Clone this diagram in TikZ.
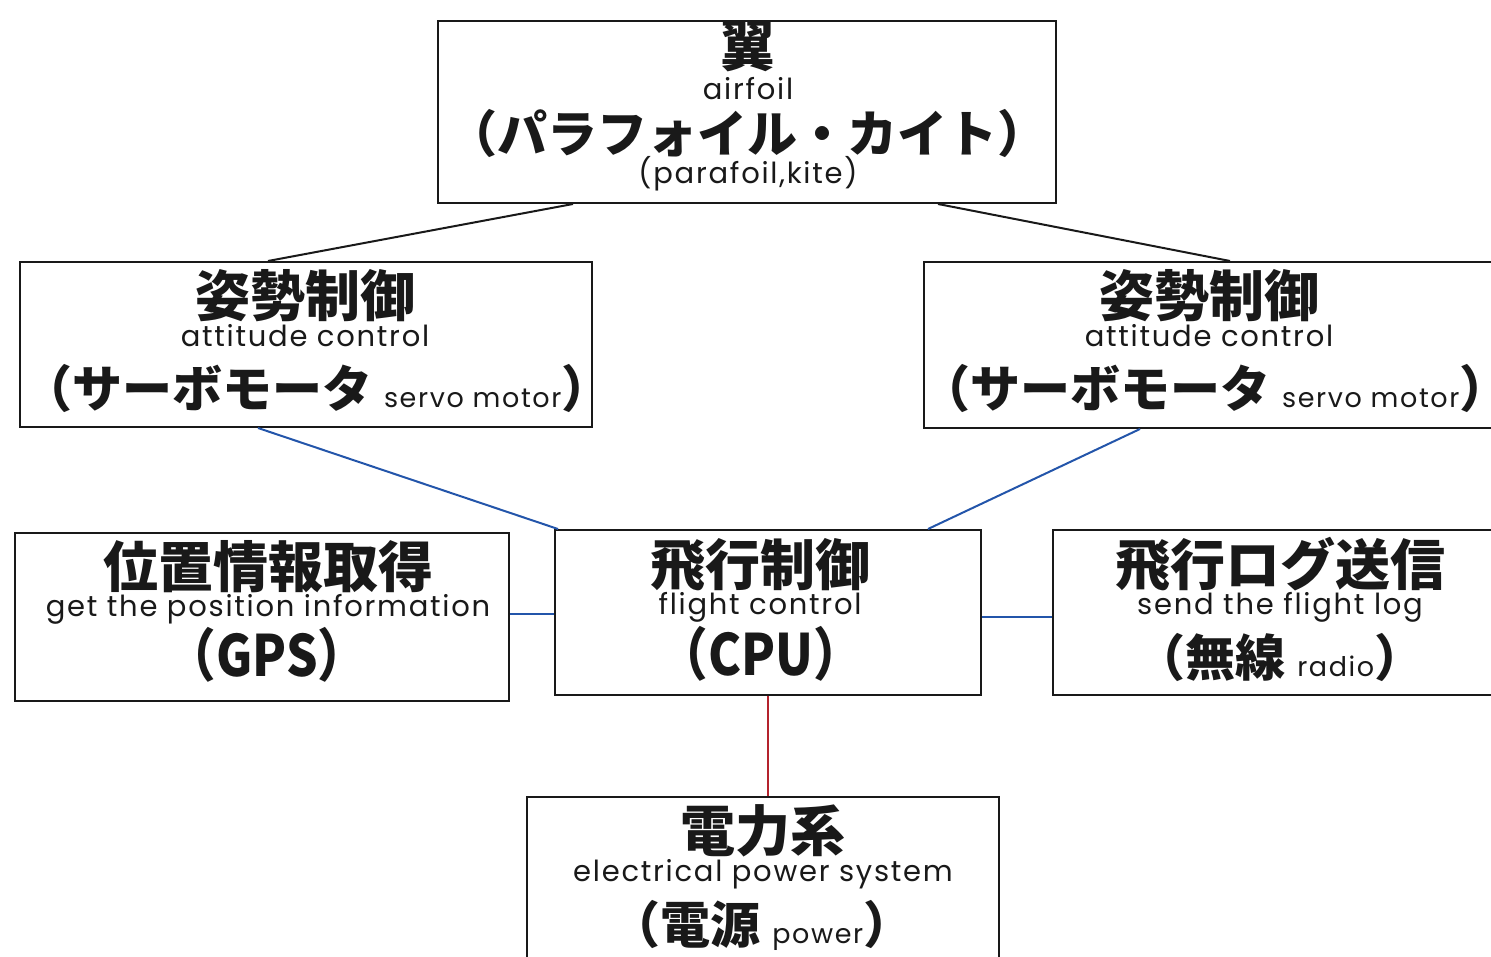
\documentclass[tikz,border=0pt]{standalone}
\usepackage{fontspec}
\newfontfamily\jp{Noto Sans CJK JP}
\newfontfamily\en{Poppins}[LetterSpace=6]
\setmainfont{Noto Sans CJK JP}
\definecolor{lnblue}{RGB}{35,85,170}
\definecolor{lnred}{RGB}{180,35,45}
\definecolor{ink}{RGB}{25,25,25}
\tikzset{
  box/.style={draw=ink, line width=2pt, rectangle, inner sep=0pt, fill=white},
  jpt/.style={font=\jp\bfseries\fontsize{55}{55}\selectfont, inner sep=0pt, text=ink, text height=46pt, text depth=2pt},
  ent/.style={font=\en\fontsize{29}{29}\selectfont, inner sep=0pt, text=ink, anchor=base},
  jpm/.style={font=\jp\bfseries\fontsize{50}{50}\selectfont, inner sep=0pt, text=ink, text height=42pt, text depth=6pt},
  jpg/.style={font=\jp\bfseries\fontsize{57}{57}\selectfont, inner sep=0pt, text=ink, text height=44pt, text depth=6pt},
  con/.style={line width=2pt},
}
\newcommand{\sm}[1]{{\en\mdseries\fontsize{27}{27}\selectfont #1}}
\newcommand{\lp}{\kern-0.42em（}
\newcommand{\rp}{）\kern-0.42em}
\begin{document}
\begin{tikzpicture}[x=1pt,y=-1pt]
\useasboundingbox (0,0) rectangle (1491,957);
\clip (0,0) rectangle (1491,957);
% boxes
\node[box, minimum width=618pt, minimum height=182pt] (wing) at (747,112) {};
\node[box, minimum width=572pt, minimum height=165pt] (attL) at (306,344.5) {};
\node[box, minimum width=570pt, minimum height=166pt] (attR) at (1209,345) {};
\node[box, minimum width=494pt, minimum height=168pt] (gps) at (262,617) {};
\node[box, minimum width=426pt, minimum height=165pt] (cpu) at (768,612.5) {};
\node[box, minimum width=440pt, minimum height=165pt] (radio) at (1273,612.5) {};
\node[box, minimum width=472pt, minimum height=200pt] (power) at (763,897) {};
% connectors
\coordinate (w1) at ([xshift=-174pt]wing.south);
\coordinate (w2) at ([xshift=191pt]wing.south);
\coordinate (aL) at ([xshift=-38pt]attL.north);
\coordinate (aR) at ([xshift=21pt]attR.north);
\draw[con, ink] (w1) -- (aL);
\draw[con, ink] (w2) -- (aR);
\coordinate (aLb) at ([xshift=-48pt]attL.south);
\coordinate (aRb) at ([xshift=-69pt]attR.south);
\coordinate (c1) at ([xshift=-210pt]cpu.north);
\coordinate (c2) at ([xshift=160pt]cpu.north);
\draw[con, lnblue] (aLb) -- (c1);
\draw[con, lnblue] (aRb) -- (c2);
\draw[con, lnblue] (gps.east |- 0,614) -- (cpu.west |- 0,614);
\draw[con, lnblue] (cpu.east |- 0,617) -- (radio.west |- 0,617);
\draw[con, lnred] (cpu.south) -- (cpu.south |- power.north);
% texts
\node[jpt] (t1a) at (748,45) {翼};
\node[ent] (t1b) at (748,100) {airfoil};
\node[jpm] (t1c) at (747.5,135) {\lp パラフォイル・カイト\rp};
\node[ent] (t1d) at (748,184) {(parafoil,kite)};

\node[jpt] (t2a) at (305,295) {姿勢制御};
\node[ent] (t2b) at (305,347) {attitude control};
\node[jpm] (t2c) at (317,389) {\lp サーボモータ \sm{servo motor}\rp};

\node[jpt] (t3a) at (1209,295) {姿勢制御};
\node[ent] (t3b) at (1209,347) {attitude control};
\node[jpm] (t3c) at (1215,389) {\lp サーボモータ \sm{servo motor}\rp};

\node[jpt] (t4a) at (268,565) {位置情報取得};
\node[ent] (t4b) at (268,616) {get the position information};
\node[jpg] (t4c) at (267,657) {\scalebox{0.87}[1]{\lp GPS\rp}};

\node[jpt] (t5a) at (760,563) {飛行制御};
\node[ent] (t5b) at (760,614) {flight control};
\node[jpg] (t5c) at (761,656) {\scalebox{0.87}[1]{\lp CPU\rp}};

\node[jpt] (t6a) at (1280,563) {飛行ログ送信};
\node[ent] (t6b) at (1280,614) {send the flight log};
\node[jpm] (t6c) at (1280,658) {\lp 無線 \sm{radio}\rp};

\node[jpt] (t7a) at (763,829) {電力系};
\node[ent] (t7b) at (763,881) {electrical power system};
\node[jpm] (t7c) at (762,925) {\lp 電源 \sm{power}\rp};
\end{tikzpicture}
\end{document}
